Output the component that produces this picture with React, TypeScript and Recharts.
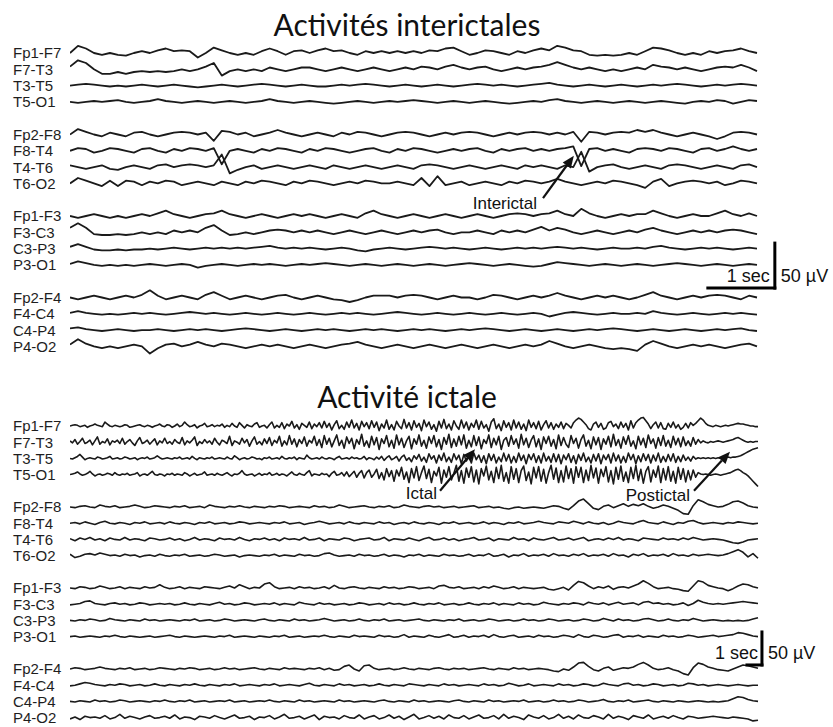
import React from 'react';
import { LineChart, Line, XAxis, YAxis, ReferenceLine } from 'recharts';

// ---------- channel montage (tick labels) ----------
const channelNames = [
  'Fp1-F7', 'F7-T3', 'T3-T5', 'T5-O1',
  'Fp2-F8', 'F8-T4', 'T4-T6', 'T6-O2',
  'Fp1-F3', 'F3-C3', 'C3-P3', 'P3-O1',
  'Fp2-F4', 'F4-C4', 'C4-P4', 'P4-O2',
];

// ---------- interictal traces (µV, 87 samples over ~10.25 s) ----------
const interFp1F7 = [0,8,5,0,-2,0,-2,-3,0,2, 0,3,5,2,3,2,-5,0,6,3, 0,-2,0,-2,2,5,2,-2,2,3, 0,3,5,2,3,0,-2,2,0,2, 0,2,0,2,0,3,2,5,6,2, -2,0,3,2,0,-2,2,0,3,5, 3,8,6,3,2,-2,-3,-2,-3,-2, 0,-2,2,6,5,3,0,-2,0,-2, 2,0,2,3,5,2,0];
const interF7T3 = [3,10,7,0,-5,-5,-3,-5,-3,-2, -3,-2,-3,-2,0,-2,0,3,7,-7, -2,0,-2,0,-2,2,0,-2,0,2, 2,0,-2,0,2,0,-2,0,2,0, -2,0,2,0,3,2,0,3,5,2, 0,2,3,0,-2,0,2,0,2,3, 5,8,5,2,0,2,0,-2,0,-2, 0,2,0,5,3,2,0,2,0,-2, 0,2,3,2,5,2,-2];
const interT3T5 = [0,1,2,1,0,-1,0,-1,0,1, 0,-1,0,1,0,-1,-2,-1,0,1, 0,-1,0,1,2,1,0,-1,0,1, 0,-1,-1,0,1,0,1,2,1,0, -1,0,1,0,-1,0,1,0,-1,0, 1,2,1,0,1,0,-1,0,1,2, 3,1,0,-1,0,1,0,-1,0,1, 0,-1,0,1,0,1,2,1,0,-1, 0,1,0,1,2,1,0];
const interT5O1 = [0,-1,0,1,0,1,2,0,-1,0, 1,3,1,0,-1,0,1,0,-1,0, 1,0,-1,0,1,3,1,0,-1,0, 1,0,-1,-2,-1,0,1,0,-1,0, 1,0,1,2,1,0,-1,0,1,0, -1,0,1,0,-1,-2,-1,0,1,0, 2,3,1,0,-1,0,1,0,-1,0, 1,0,-1,0,1,0,-1,-2,0,1, 0,2,1,-2,0,2,1];
const interFp2F8 = [0,6,3,0,-2,2,0,-2,2,3, 0,-2,0,2,3,2,0,2,-7,4, 3,0,2,-2,0,2,5,2,0,-2, 0,2,0,-2,2,0,3,2,0,-2, 0,2,3,2,0,-2,0,2,0,2, 3,2,0,-2,0,2,0,2,3,2, 0,2,0,3,-8,3,2,0,2,3, 2,5,3,5,2,0,-2,0,2,0, -2,-5,-2,2,3,2,0];
const interF8T4 = [0,3,2,-2,0,3,2,0,-2,2, 3,0,-2,2,0,3,2,0,3,-15, 0,2,0,-2,2,0,3,2,0,-2, 2,0,3,2,0,-2,0,2,3,0, -2,2,0,3,2,0,-2,0,2,0, 2,3,0,-2,2,0,2,3,0,2, 0,2,3,5,-17,2,3,0,2,0, -2,2,3,2,0,3,2,0,-2,2, 3,0,2,5,2,0,2];
const interT4T6 = [2,0,-2,0,2,-2,-3,0,2,0, -2,2,3,0,2,3,2,0,2,14, -7,-3,0,2,-2,0,2,0,-2,0, 2,0,-2,2,0,-2,0,2,0,-2, 0,2,0,-2,2,3,2,0,-2,0, 2,0,-2,0,2,0,-2,2,0,2, 0,-2,2,0,17,-5,0,2,3,0, -2,0,2,0,-2,2,3,2,0,-2, 0,2,0,-2,2,3,0];
const interT6O2 = [0,6,3,0,-3,3,-3,3,2,-2, 2,0,3,2,-2,0,2,0,-2,2, 0,-2,2,0,3,2,0,-2,2,0, 3,2,0,-2,0,2,0,3,2,0, 0,2,0,-2,6,-3,8,-2,0,2, -2,0,2,0,-2,2,0,3,2,0, 2,5,2,0,-2,0,2,0,3,2, 0,-2,-5,2,5,-3,0,2,3,2, 0,2,-2,0,3,2,0];
const interFp1F3 = [0,-2,0,2,0,-2,0,-2,0,2, 0,3,6,2,0,-2,0,2,3,6, 2,0,-2,0,2,0,-2,0,2,0, 2,0,-2,0,2,0,-2,3,6,2, 0,-2,0,2,0,-2,0,2,0,-2, 0,2,0,-2,0,2,3,2,0,2, 3,6,2,0,8,3,0,-2,0,2, 0,2,2,6,3,0,-2,0,2,0, 0,3,6,2,0,3,0];
const interF3C3 = [5,10,5,-2,-3,-3,-2,-3,-2,0, -2,0,-2,2,0,2,0,5,8,2, -3,-2,0,-2,0,2,3,2,0,2, 0,2,0,-2,0,2,0,-2,0,2, 0,-2,0,2,0,2,3,0,-2,0, 0,2,0,-2,2,0,2,0,3,6, 2,5,3,0,-2,0,2,0,-2,0, 2,0,3,5,2,0,-2,0,2,0, 2,0,2,3,2,0,-2];
const interC3P3 = [2,5,2,-1,-2,-2,-1,-2,-1,-1, 0,-1,0,1,0,-1,0,1,0,1, 0,1,0,1,2,3,1,0,1,0, 1,0,-1,0,1,0,-2,-3,-1,0, 1,0,-1,0,1,2,1,0,1,0, -1,0,1,0,-1,0,1,0,1,0, 1,2,1,0,1,0,-1,0,1,0, 0,1,0,2,3,1,0,-1,0,1, 0,1,0,-1,0,1,0];
const interP3O1 = [1,4,2,0,-1,0,-1,0,-1,0, 1,0,-1,0,1,0,-3,-1,0,1, 0,-1,0,1,0,1,0,-1,0,1, 0,1,2,1,0,-1,0,1,0,-1, 0,1,0,-1,0,1,0,-1,0,1, 2,1,0,-1,0,1,0,-1,-2,-1, 1,3,2,1,0,-1,0,1,0,-1, 0,1,0,-1,0,1,2,1,0,-1, 0,1,0,-1,0,1,0];
const interFp2F4 = [0,-2,0,2,0,-2,0,2,0,3, 8,2,-2,0,2,0,-2,3,6,2, -2,0,2,0,-2,0,2,3,0,-2, 0,2,0,-2,-3,-5,-3,0,2,2, 2,0,2,3,2,0,-2,0,2,0, 0,-2,0,3,2,0,-2,0,2,0, 2,5,2,0,-2,0,2,0,2,0, -2,0,3,6,2,0,-2,0,2,0, 2,3,2,0,-2,2,0];
const interF4C4 = [1,3,1,0,-1,0,-1,0,1,0, 1,0,-1,0,1,2,1,0,1,0, -1,0,1,0,-1,0,1,0,-1,0, 1,0,-1,0,1,0,1,0,-1,0, 1,2,1,0,-1,0,1,0,-1,0, 1,0,-1,0,1,0,-1,0,1,0, -3,-1,1,2,1,0,-1,0,1,0, 0,1,0,3,1,0,-1,0,1,0, -1,0,1,0,1,0,-1];
const interC4P4 = [2,3,1,0,-1,0,1,0,-1,0, 0,1,0,-1,0,1,0,1,0,-1, 0,1,2,1,0,-1,0,1,0,-1, 0,1,0,1,0,-1,0,1,0,1, 0,-1,0,1,0,1,0,-1,0,1, 0,1,2,1,0,-1,0,1,0,-1, 0,1,0,-1,0,1,0,1,2,1, 0,-1,0,1,0,-1,0,1,0,-1, 0,1,0,1,2,0,-1];
const interP4O2 = [2,8,3,0,-2,0,-2,0,2,0, -8,-2,2,3,0,2,5,2,0,3, 2,0,-2,0,2,0,2,0,-2,0, 2,0,-2,0,2,3,5,2,0,-2, 0,2,0,-2,0,2,0,-2,0,2, 0,-2,0,2,0,-2,0,2,0,2, 6,3,0,-2,0,2,0,-2,-3,-2, -3,-5,2,6,3,0,-2,0,2,0, 2,0,-2,0,2,3,0];

// ---------- ictal traces (µV over ~46 s): seizure-involved channels 277 samples, others 139 ----------
const ictFp1F7 = [0,1,2,1,-1,0,1,-2,0,1,3,1,0,-1,6,3,0,-1,1,0, -1,0,2,1,-2,-1,0,1,2,0,-1,1,0,-2,0,1,3,0,-1,2, 1,-2,0,3,-1,1,6,2,-1,0,2,-3,0,1,4,-1,0,2,-1,1, 0,3,-2,1,-1,4,0,-2,5,1,-3,2,0,-1,3,5,-2,0,1,-3, 2,6,-3,1,-2,5,-4,3,0,7,-3,2,-5,4,1,-2,6,-4,3,-1, 5,-3,7,-2,4,-6,2,8,-4,1,-5,6,-2,9,-3,4,-6,7,-1,5, -4,8,-2,6,-7,3,-3,9,-5,2,-6,7,0,-4,10,-3,5,-6,8,-2, 4,-7,9,-1,6,-5,2,-8,7,-3,10,-4,3,-6,8,0,-5,9,-3,6, -6,4,-2,9,-5,7,-3,2,-8,6,11,-4,3,-7,8,-2,5,-6,9,-3, 6,-5,3,-7,9,-2,5,-4,7,-6,2,8,-3,5,-5,3,-2,6,-4,4, 1,-3,5,9,12,10,6,2,-4,-6,3,6,-2,4,-5,-3,5,7,-1,3, -4,6,-2,4,-6,8,-3,5,9,12,13,8,3,-4,2,6,-3,5,-4,-5, 4,-2,6,-3,2,-5,-2,4,-3,5,1,4,8,12,9,4,1,0,-1,1, 0,-1,0,1,0,1,2,3,4,3,3,2,1,0,0,-1,-1];
const ictF7T3 = [2,-1,4,-3,1,6,-2,0,3,-4,2,8,-3,1,-1,5,-4,2,0,3, -2,6,-3,1,4,-1,-5,2,7,-2,0,3,-3,1,5,-4,2,-1,6,-2, 1,-3,4,0,-2,7,-4,2,-1,3,8,-5,1,-2,4,-1,2,-3,6,0, -4,3,1,-2,9,-5,2,0,-3,6,-1,4,-6,2,8,-3,1,-4,5,-2, 7,-5,3,-1,9,-6,2,-4,10,-3,5,-7,4,-2,8,-6,3,-1,9,-5, 4,-8,10,-3,6,-7,2,11,-5,3,-9,8,-2,6,-10,4,-3,12,-6,2, -8,9,-4,7,-11,5,-2,10,-7,3,-9,11,-4,6,-8,2,9,-10,5,-3, 11,-6,3,-9,8,-2,10,-7,4,-11,7,-3,12,-8,5,-6,9,-4,11,-9, 3,-7,10,-5,8,-10,4,-2,11,-8,6,-4,9,-11,3,7,-6,10,-3,5, -9,12,-4,6,-8,3,10,-7,5,-11,8,-2,9,-6,4,-10,11,-5,7,-3, -8,10,-2,6,-9,4,11,-6,3,-10,8,-4,7,-11,5,-3,9,-7,12,-5, 4,-9,8,-3,10,-6,2,-10,9,-4,6,-8,11,-2,5,-9,7,-5,10,-6, 3,-8,9,-4,6,-7,8,-5,2,-6,7,-3,4,-1,2,0,-1,1,0,1, 2,1,0,1,2,3,4,6,7,5,3,1,0,1,0,1,1];
const ictT3T5 = [0,-1,1,3,6,2,-2,0,1,0,-1,2,1,-1,0,1,3,-1,0,1, -1,0,2,1,-1,0,1,-2,0,1,0,2,-1,0,1,4,1,-1,0,1, 0,-1,1,0,2,-1,0,1,-1,3,0,-2,1,0,-1,1,0,2,-1,0, 1,0,-1,2,0,-1,4,1,-2,0,1,-1,0,2,1,-1,0,-2,1,0, 2,-1,0,1,-1,3,0,-1,1,0,2,-2,1,0,-1,5,1,-1,0,1, -1,2,0,-1,1,0,-2,1,3,-1,0,1,-1,2,0,1,-1,0,3,-2, 1,0,-2,2,-1,3,-3,1,4,-2,0,3,-4,2,5,-3,1,-5,4,-1, 6,-4,2,-6,7,-1,4,-7,5,-3,8,-5,2,-6,7,-2,5,-8,6,-4, 3,-7,8,-2,5,-6,4,-8,7,-3,6,-7,2,-5,8,-4,6,-7,3,-6, 8,-3,5,-8,6,-2,7,-6,4,-7,8,-4,3,-6,7,-5,6,-8,5,-2, 7,-6,4,-8,6,-3,8,-5,2,-7,6,-4,7,-8,5,-2,6,-7,8,-4, 5,-7,3,-6,8,-2,6,-8,4,-5,7,-3,6,-7,5,-4,8,-6,3,-5, 6,-4,7,-6,3,-5,5,-3,2,-4,3,-1,1,0,1,0,1,0,1,0, 1,0,1,1,2,1,2,2,3,4,6,8,10,12,14,15,16];
const ictT5O1 = [0,1,2,4,1,-1,0,2,5,1,-2,0,1,-1,0,2,1,-1,3,0, -1,1,0,2,-1,0,1,3,-2,0,1,-1,2,5,0,-1,1,0,-2,1, 0,2,-1,1,0,-1,3,1,-2,0,2,-1,0,1,4,-1,0,1,-1,2, 0,-1,1,3,0,-2,1,0,2,6,1,-1,0,1,-2,0,2,-1,1,0, 3,-1,0,2,-1,1,0,-2,1,4,0,-1,2,0,-1,3,6,-2,1,0, -1,2,0,1,-3,2,5,-1,0,3,-2,4,-3,1,5,-4,2,6,-5,3, 7,-4,1,8,-6,3,-8,9,-3,6,-10,7,-2,11,-7,4,-12,9,-5,12, -9,3,13,-6,8,-12,5,-2,11,-13,7,-4,12,-8,2,14,-10,6,-13,10, -4,12,-11,7,-14,9,-2,13,-8,5,-12,11,-6,14,-10,3,-13,12,-7,9, -12,6,13,-9,4,-14,11,-5,12,-10,8,-13,3,14,-7,10,-12,6,-11,13, -6,9,-13,12,-4,11,-12,7,-9,14,-5,10,-13,8,-3,12,-11,6,-14,11, -7,13,-10,4,-12,11,-6,14,-9,8,-13,5,12,-11,7,-4,13,-12,9,-8, 12,-10,5,-13,11,-7,9,-11,6,-8,7,-4,3,1,0,1,0,-1,0,1, 0,-1,0,1,2,3,5,7,8,6,3,1,-2,-6,-10,-14,-18];
const ictFp2F8 = [0,-1,1,2,0,-1,3,1,0,2,-1,0,1,3,1,-1,0,2,1,0, -1,1,0,2,-1,0,1,-1,3,1,0,-1,1,0,2,0,-1,1,0,-1, 1,0,2,1,-1,0,1,0,-1,2,0,1,-1,0,3,1,-1,0,1,2, 0,-1,1,0,2,-1,0,3,1,0,-1,1,2,0,1,-1,0,1,-1,0, 1,2,-1,0,1,-1,0,-2,-3,-1,0,-2,-1,0,-1,-2,0,2,1,-2, -4,2,9,12,5,-2,-4,1,3,-1,2,5,1,4,2,5,1,-2,0,3, 1,-2,-5,-10,-11,2,11,8,4,2,0,1,4,8,9,6,2,0,-1];
const ictF8T4 = [0,1,-1,2,0,-2,1,3,0,-1,1,0,-2,1,0,2,-1,0,1,-1, 2,0,-1,1,0,-2,1,0,2,-1,0,1,-1,0,2,1,-1,0,1,0, -1,1,0,2,-1,0,1,-2,0,1,3,1,-1,0,1,-1,2,0,-1,1, 0,-1,2,0,1,-2,0,1,-1,2,0,-1,1,0,-2,1,0,2,-1,0, 1,-1,0,2,-1,1,0,-2,1,0,2,-1,0,1,3,1,0,-1,2,1, 0,3,1,-1,2,0,-1,1,-2,0,3,1,0,-1,2,4,1,0,-1,2, 0,-2,1,0,3,4,1,-1,0,1,0,-1,1,0,2,1,0,-1,0];
const ictT4T6 = [1,-2,2,0,3,-1,1,-2,2,0,-1,3,-1,1,0,-2,2,1,-1,0, 2,-1,1,-2,0,3,-1,1,0,-2,2,0,1,-1,3,0,-2,1,0,2, -1,1,-2,2,0,1,-1,3,-1,0,2,-2,1,0,-1,2,1,-2,0,1, 2,-1,0,3,-2,1,0,-1,2,0,-2,1,3,-1,0,2,-1,1,-2,0, 1,3,-1,0,2,-2,1,0,-1,3,0,1,-2,2,0,-1,1,3,-1,0, 2,-1,1,3,-2,0,1,-1,2,0,3,-1,1,0,-2,2,1,0,-1,2, 0,1,-1,2,0,3,1,-1,0,1,0,-1,-3,-5,-6,-4,-1,0,1];
const ictT6O2 = [2,-3,-1,2,3,1,4,2,0,1,-1,2,0,1,-2,0,1,-1,2,0, -1,1,0,2,-1,0,1,-1,0,2,1,-1,0,1,-2,0,1,0,-1,1, 0,2,-1,1,0,-1,2,0,1,-1,0,3,4,1,-1,0,1,-1,2,0, 1,-1,0,2,-1,1,0,-2,1,0,2,-1,1,0,-1,2,0,1,-1,0, 2,-1,1,0,3,-1,0,2,-2,1,0,3,-1,1,0,2,-1,3,0,1, -1,2,0,3,-1,1,0,2,-1,3,0,1,-2,2,0,3,-1,1,0,2, -1,3,0,1,-1,2,0,1,2,1,0,1,3,6,9,5,-2,3,-4];
const ictFp1F3 = [0,-1,2,1,-1,0,3,1,-1,0,2,-1,1,0,-1,2,0,1,5,1, -1,0,2,-1,1,0,-1,2,1,0,-1,1,3,0,5,2,-1,1,0,6, 8,2,-1,0,1,-1,2,0,1,-1,0,2,-1,4,0,-1,1,2,0,-1, 1,0,-1,2,0,1,-1,0,2,1,-1,0,1,-1,3,4,1,0,2,-1, 0,1,-1,2,0,3,1,-1,0,2,-1,1,0,-1,0,1,-2,-3,-1,1, -3,4,10,8,3,-1,2,0,3,-2,1,2,0,3,6,11,7,2,-1,0, 1,-1,-2,-4,-5,3,11,9,4,2,0,-1,-4,-1,3,6,5,2,0];
const ictF3C3 = [-1,0,1,4,5,1,0,-1,1,2,0,1,-1,0,2,1,-1,0,1,0, 1,-1,0,2,0,-1,1,0,-1,1,3,0,1,-1,0,2,1,-1,0,1, 0,2,-1,1,0,-1,3,1,0,-1,2,0,1,-1,0,1,-1,0,2,1, -1,0,1,-1,2,0,1,-1,0,2,0,-1,1,0,2,-1,0,1,-1,0, 2,0,-1,1,0,2,-1,1,0,-1,2,0,1,-1,0,3,1,0,-1,1, 0,2,1,-1,3,1,0,2,-1,1,3,0,1,2,-1,3,4,1,2,0, 1,-1,0,2,-2,1,6,3,1,0,1,0,1,2,3,4,3,2,1];
const ictC3P3 = [0,-1,1,0,2,1,-1,0,3,1,0,-1,1,0,-1,2,0,1,-1,0, 1,0,-1,1,0,2,-1,0,1,-1,0,2,1,-1,0,1,0,-1,1,2, 0,-1,1,0,-1,2,0,1,-1,0,1,3,1,-1,0,1,-1,0,2,0, -1,1,0,2,-1,0,1,-1,0,1,2,0,-1,1,0,-1,1,0,2,-1, 0,1,-1,0,2,1,-1,0,1,-1,0,2,0,1,-1,0,2,1,-1,0, 1,-1,0,2,1,-1,0,3,1,-1,2,0,1,-1,0,2,3,1,-1,0, 2,0,-1,1,0,3,1,-1,0,1,0,-1,0,-1,0,-1,0,2,4];
const ictP3O1 = [0,1,-1,0,1,0,-1,1,0,2,0,-1,1,0,-1,0,1,-1,0,1, 2,0,-1,1,0,-1,0,1,0,-1,1,0,2,-1,0,1,0,-1,1,0, -1,1,0,2,-1,0,1,-1,0,1,0,2,0,-1,1,0,-1,2,0,1, 0,-1,2,0,1,-1,0,3,-1,1,0,-1,2,0,-1,1,3,-1,0,2, -1,1,0,2,-1,3,0,-1,1,2,-1,0,1,-1,2,0,1,-1,0,2, 1,-1,3,0,-1,2,1,-1,0,2,3,-1,1,0,2,-1,1,0,-1,2, 0,1,-1,0,2,1,-1,0,1,2,0,1,2,3,6,5,3,1,0];
const ictFp2F4 = [0,2,1,-1,0,1,3,1,0,-1,1,0,2,-1,0,1,-1,0,2,1, 0,-1,1,0,2,1,-1,0,1,-1,0,2,0,1,-1,0,1,2,0,-1, 1,0,-1,2,0,1,0,-1,1,0,2,-1,1,-2,-1,4,6,0,-3,5, 6,1,-1,0,1,-1,0,2,0,-1,1,0,-1,1,2,0,-1,1,0,1, -1,0,1,2,0,-1,1,0,-1,2,0,1,-1,0,1,0,-1,-3,-4,0, -2,3,9,10,4,-1,-3,1,3,-2,0,2,1,3,7,10,6,1,-1,0, 2,-1,-3,-7,-9,2,9,7,3,1,-1,-2,-3,0,3,6,5,3,1];
const ictF4C4 = [-1,0,2,4,3,1,0,-1,1,0,2,1,-1,0,1,-1,0,2,0,-1, 1,0,-1,1,0,2,0,-1,1,0,-1,1,0,2,-1,0,1,0,-1,1, 0,2,-1,0,1,0,-1,1,3,0,-1,1,0,-1,2,0,1,-1,0,1, -1,0,2,0,-1,1,0,-1,2,1,0,-1,1,0,-1,2,0,1,-1,0, 1,0,-1,2,0,1,-1,0,3,1,-1,0,2,-1,0,1,0,-1,2,0, 1,-1,0,2,1,-1,0,3,1,0,-1,2,3,0,1,-1,0,2,1,-1, 0,1,-1,0,3,2,0,1,-1,0,1,0,-1,0,1,0,-1,0,0];
const ictC4P4 = [0,-1,1,0,-1,2,0,1,-1,0,2,1,-1,0,1,0,-1,1,0,2, 0,-1,1,0,2,-1,0,1,-1,0,1,0,2,-1,0,1,-1,0,1,0, 2,0,-1,1,0,-1,2,0,1,-1,0,1,0,-1,2,0,1,-1,0,1, 0,-1,1,2,0,-1,1,0,-1,2,0,1,-1,0,1,0,-1,1,2,0, -1,1,0,-1,2,0,1,-1,0,1,0,2,-1,0,1,-1,0,2,0,1, -1,0,2,1,-1,0,1,3,0,-1,1,0,2,-1,0,1,2,0,-1,1, 0,-1,1,0,-1,0,1,0,-1,0,-1,0,1,4,7,6,3,1,0];
const ictP4O2 = [-2,1,-3,2,0,1,-1,3,-2,0,5,-1,2,0,-2,1,3,-1,0,2, -1,4,-2,1,0,-3,2,1,-1,3,0,-2,1,4,-1,0,2,-3,1,0, 3,-2,1,5,-1,0,2,-2,1,4,-3,2,0,1,-2,3,0,-1,4,-2, 1,3,-2,0,4,-1,2,-3,1,5,-2,0,3,-1,2,-2,4,0,-1,3, -2,1,4,-1,0,3,-2,5,-1,2,0,-3,4,1,-1,3,-2,0,5,-1, 2,-2,4,0,-1,3,1,-2,5,-1,2,0,-3,3,1,-1,4,-2,0,2, -1,3,0,-2,2,1,-1,0,1,2,1,0,-1,1,0,-1,-2,-5,-4];

const interictalTraces = [interFp1F7, interF7T3, interT3T5, interT5O1, interFp2F8, interF8T4, interT4T6, interT6O2, interFp1F3, interF3C3, interC3P3, interP3O1, interFp2F4, interF4C4, interC4P4, interP4O2];
const ictalTraces = [ictFp1F7, ictF7T3, ictT3T5, ictT5O1, ictFp2F8, ictF8T4, ictT4T6, ictT6O2, ictFp1F3, ictF3C3, ictC3P3, ictP3O1, ictFp2F4, ictF4C4, ictC4P4, ictP4O2];

// ---------- layout ----------
const PAGE_W = 833;
const AXIS_W = 70;
const RIGHT_M = 53;
const PLOT_W = PAGE_W - AXIS_W - RIGHT_M;
const LABEL_X = 13;
const FONT = '"Liberation Sans", Arial, Helvetica, sans-serif';
const TRACE = '#1a1a1a';

type Arrow = { text: string; from: [number, number]; to: [number, number]; dx: number; dy: number };
type Cfg = {
  top: number; height: number; mTop: number; mBottom: number;
  gain: number; secPx: number; traceEndPx: number;
  firstY: number; blockStep: number; chStep: number;
  bar: { t0: number; t1: number; uv: number; secDx: number; uvDx: number; dy: number };
  arrows: Arrow[];
  strokeW: number;
};

const interCfg: Cfg = {
  top: 0, height: 380, mTop: 30, mBottom: 10,
  gain: 45 / 50, secPx: 67, traceEndPx: 757,
  firstY: 53, blockStep: 81.5, chStep: 16.3,
  bar: { t0: 9.52, t1: 10.52, uv: 91, secDx: -5, uvDx: 6, dy: -6 },
  arrows: [{ text: 'Interictal', from: [7.06, 191], to: [7.52, 238], dx: -6, dy: 11 }],
  strokeW: 1.8,
};

const ictCfg: Cfg = {
  top: 400, height: 327, mTop: 10, mBottom: 0,
  gain: 33 / 50, secPx: 15, traceEndPx: 758,
  firstY: 426, blockStep: 81, chStep: 16.2,
  bar: { t0: 45.13, t1: 46.13, uv: 94, secDx: -4, uvDx: 6, dy: -6 },
  arrows: [
    { text: 'Ictal', from: [24.67, 358], to: [27.0, 421], dx: -3, dy: 8 },
    { text: 'Postictal', from: [41.6, 358], to: [44.0, 417], dx: -4, dy: 10 },
  ],
  strokeW: 1.6,
};

const makeArrow = (text: string, dx: number, dy: number) => (p: any) => {
  const { x1, y1, x2, y2 } = p;
  const len = Math.hypot(x2 - x1, y2 - y1) || 1;
  const ux = (x2 - x1) / len, uy = (y2 - y1) / len;
  const hl = 12, hw = 5;
  const bx = x2 - ux * hl, by = y2 - uy * hl;
  return (
    <g>
      <line x1={x1} y1={y1} x2={bx} y2={by} stroke="#111" strokeWidth={2.2} />
      <polygon points={`${x2},${y2} ${bx - uy * hw},${by + ux * hw} ${bx + uy * hw},${by - ux * hw}`} fill="#111" />
      <text x={x1 + dx} y={y1 + dy} textAnchor="end" fontSize={17} fontFamily={FONT} fill="#111">{text}</text>
    </g>
  );
};

const makeBar = (text: string, anchor: 'start' | 'end', dx: number, dy: number) => (p: any) => {
  const cx = Math.max(p.x1, p.x2), cy = Math.max(p.y1, p.y2);
  return (
    <g>
      <line x1={p.x1} y1={p.y1} x2={p.x2} y2={p.y2} stroke="#000" strokeWidth={3} strokeLinecap="square" />
      <text x={cx + dx} y={cy + dy} textAnchor={anchor} fontSize={18} fontFamily={FONT} fill="#111">{text}</text>
    </g>
  );
};

function EEGPanel({ cfg, traces }: { cfg: Cfg; traces: number[][] }) {
  const plotBottom = cfg.top + cfg.height - cfg.mBottom;
  const plotH = cfg.height - cfg.mTop - cfg.mBottom;
  const baseFor = (ch: number) => {
    const b = Math.floor(ch / 4), c = ch % 4;
    const py = cfg.firstY + b * cfg.blockStep + c * cfg.chStep;
    return (plotBottom - py) / cfg.gain;
  };
  const yMax = plotH / cfg.gain;
  const xMax = PLOT_W / cfg.secPx;
  const n = Math.max(...traces.map((a) => a.length));
  const dur = (cfg.traceEndPx - AXIS_W) / cfg.secPx;
  const dt = dur / (n - 1);
  const steps = traces.map((a) => Math.round((n - 1) / (a.length - 1)));
  const rows: any[] = [];
  for (let i = 0; i < n; i++) {
    const r: any = { t: i * dt };
    channelNames.forEach((name, ch) => {
      const s = steps[ch];
      const v = i % s === 0 ? traces[ch][i / s] : undefined;
      r[name] = v === undefined ? null : baseFor(ch) + v;
    });
    rows.push(r);
  }
  const ticks = channelNames.map((_, ch) => baseFor(ch));
  const { bar } = cfg;
  return (
    <div style={{ position: 'absolute', left: 0, top: cfg.top }}>
      <LineChart width={PAGE_W} height={cfg.height} data={rows}
        margin={{ top: cfg.mTop, right: RIGHT_M, bottom: cfg.mBottom, left: 0 }}>
        <XAxis type="number" dataKey="t" domain={[0, xMax]} hide allowDataOverflow />
        <YAxis type="number" domain={[0, yMax]} ticks={ticks} interval={0} width={AXIS_W}
          axisLine={false} tickLine={false} allowDataOverflow
          tick={(props: any) => {
            const idx = ticks.findIndex((v) => Math.abs(v - props.payload.value) < 1e-6);
            return (
              <text x={LABEL_X} y={props.y} dy="0.36em" textAnchor="start" fontSize={15}
                fontFamily={FONT} fill="#1e1e1e">{channelNames[idx]}</text>
            );
          }} />
        {channelNames.map((name) => (
          <Line key={name} dataKey={name} type="linear" stroke={TRACE} strokeWidth={cfg.strokeW}
            strokeLinejoin="round" connectNulls dot={false} activeDot={false} isAnimationActive={false} />
        ))}
        <ReferenceLine segment={[{ x: bar.t0, y: bar.uv }, { x: bar.t1, y: bar.uv }]}
          shape={makeBar('1 sec', 'end', bar.secDx, bar.dy)} />
        <ReferenceLine segment={[{ x: bar.t1, y: bar.uv }, { x: bar.t1, y: bar.uv + 50 }]}
          shape={makeBar('50 \u00B5V', 'start', bar.uvDx, bar.dy)} />
        {cfg.arrows.map((a) => (
          <ReferenceLine key={a.text}
            segment={[{ x: a.from[0], y: a.from[1] }, { x: a.to[0], y: a.to[1] }]}
            shape={makeArrow(a.text, a.dx, a.dy)} />
        ))}
      </LineChart>
    </div>
  );
}

const titleStyle: React.CSSProperties = {
  position: 'absolute', left: 157, width: 500, textAlign: 'center',
  fontFamily: 'Lato, "Open Sans", sans-serif', fontSize: 30, lineHeight: '32px', color: '#111',
};

export default function App() {
  return (
    <div style={{ position: 'absolute', left: 0, top: 0, width: PAGE_W, height: 727, background: '#fff', overflow: 'hidden' }}>
      <EEGPanel cfg={interCfg} traces={interictalTraces} />
      <EEGPanel cfg={ictCfg} traces={ictalTraces} />
      <div style={{ ...titleStyle, top: 8 }}>Activités interictales</div>
      <div style={{ ...titleStyle, top: 380 }}>Activité ictale</div>
    </div>
  );
}
